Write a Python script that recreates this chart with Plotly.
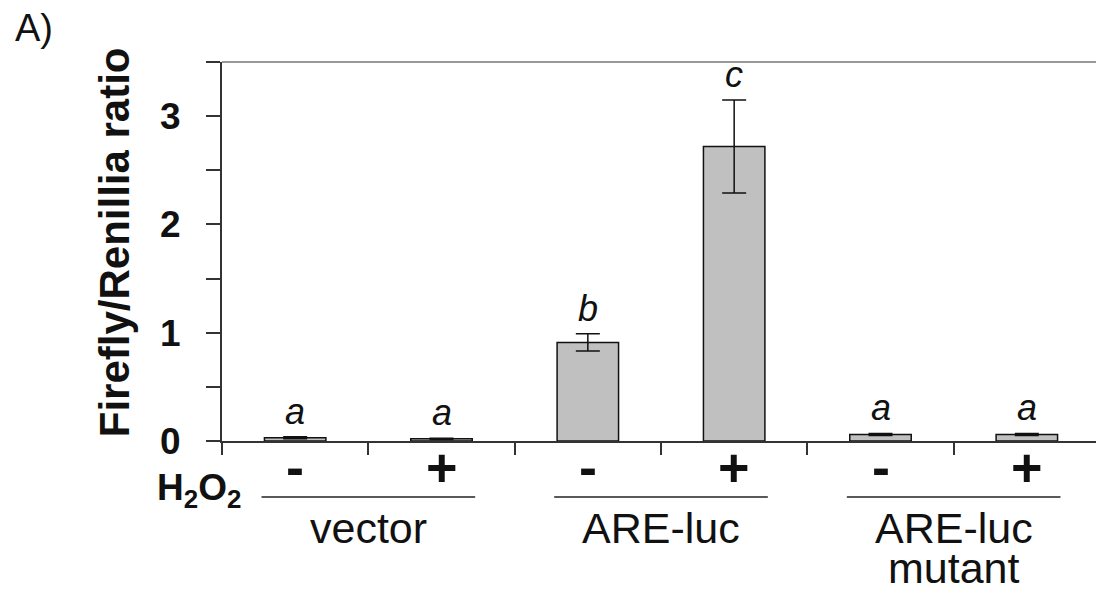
import plotly.graph_objects as go

# ---- data ----
groups = ["vector", "ARE-luc", "ARE-luc\nmutant"]
h2o2 = ["-", "+", "-", "+", "-", "+"]
values = [0.03, 0.02, 0.91, 2.72, 0.06, 0.06]
errors = [0.01, 0.005, 0.08, 0.43, 0.01, 0.01]
letters = ["a", "a", "b", "c", "a", "a"]
y_tick_vals = [0, 0.5, 1, 1.5, 2, 2.5, 3, 3.5]
y_tick_text = ["0", " ", "1", " ", "2", " ", "3", " "]
y_title = "Firefly/Renillia ratio"

FONT = "Liberation Sans, Arial, sans-serif"
OFF = 8  # page body margin
W, H = 1104 - OFF, 594 - OFF
# reference pixel geometry
REF_L, REF_R, REF_T, REF_B = 222, 1102, 62, 441
L = REF_L - OFF
T = REF_T - OFF
R = W - (REF_R - OFF)
B = H - (REF_B - OFF)
plot_w = W - L - R
plot_h = H - T - B


def py2paper(py):
    return (REF_B - py) / plot_h


def px2paper(px):
    return (px - REF_L) / plot_w


xs = [i + 0.5 for i in range(len(values))]

fig = go.Figure()
fig.add_trace(go.Bar(
    x=xs, y=values, width=0.42,
    marker=dict(color="#c0c0c0", line=dict(color="#111111", width=1.5)),
    error_y=dict(type="data", array=errors, visible=True, color="#111111",
                 thickness=1.5, width=12),
    showlegend=False,
))

ann = []
# significance letters
for x, v, e, t in zip(xs, values, errors, letters):
    ann.append(dict(x=x, y=v + e, xref="x", yref="y", text=f"<i>{t}</i>",
                    showarrow=False, yanchor="bottom", yshift=3,
                    font=dict(family=FONT, size=36, color="#111111")))
# H2O2 signs
for x, s in zip(xs, h2o2):
    ann.append(dict(x=x, y=py2paper(467), xref="x", yref="paper",
                    text=s, showarrow=False, yanchor="middle",
                    font=dict(family=FONT, size=54, color="#111111", weight="bold")))
# H2O2 label
ann.append(dict(x=px2paper(243), y=py2paper(490), xref="paper", yref="paper",
                text="H<sub>2</sub>O<sub>2</sub>", showarrow=False,
                xanchor="right", yanchor="middle",
                font=dict(family=FONT, size=37, color="#111111", weight="bold")))

shapes = []
for gi, g in enumerate(groups):
    cx = 2 * gi + 1.0
    shapes.append(dict(type="line", xref="x", yref="paper",
                       x0=cx - 0.73, x1=cx + 0.73,
                       y0=py2paper(497), y1=py2paper(497),
                       line=dict(color="#222222", width=1.5)))
    for li, line in enumerate(g.split("\n")):
        ann.append(dict(x=cx, y=py2paper(528 + 40 * li), xref="x", yref="paper",
                        text=line, showarrow=False, yanchor="middle",
                        font=dict(family=FONT, size=43, color="#111111")))

# frame top/right (gray)
shapes.append(dict(type="line", xref="paper", yref="paper", x0=0, x1=1, y0=1, y1=1,
                   line=dict(color="#999999", width=2)))
shapes.append(dict(type="line", xref="paper", yref="paper", x0=1, x1=1, y0=0, y1=1,
                   line=dict(color="#999999", width=2)))

# panel label
ann.append(dict(x=px2paper(13), y=py2paper(28), xref="paper", yref="paper", text="A)",
                showarrow=False, xanchor="left", yanchor="middle",
                font=dict(family=FONT, size=38, color="#111111")))

# y title
ann.append(dict(x=px2paper(114), y=py2paper(242), xref="paper", yref="paper",
                text=y_title, showarrow=False, textangle=-90,
                xanchor="center", yanchor="middle",
                font=dict(family=FONT, size=42, color="#111111", weight="bold")))

fig.update_layout(
    width=W, height=H,
    margin=dict(l=L, r=R, t=T, b=B, pad=0),
    plot_bgcolor="white", paper_bgcolor="white",
    annotations=ann, shapes=shapes,
    xaxis=dict(range=[0, 6], tickvals=list(range(7)), ticktext=[" "] * 7,
               ticks="outside", ticklen=12, tickwidth=1.5, tickcolor="#333333",
               showline=True, linecolor="#333333", linewidth=2,
               showgrid=False, zeroline=False, fixedrange=True),
    yaxis=dict(range=[0, 3.5], tickvals=y_tick_vals, ticktext=y_tick_text,
               ticks="outside", ticklen=14, tickwidth=1.5, tickcolor="#333333",
               showline=True, linecolor="#333333", linewidth=2,
               showgrid=False, zeroline=False,
               tickfont=dict(family=FONT, size=37, color="#111111", weight="bold"),
               ticklabelstandoff=18),
    font=dict(family=FONT),
)

fig.write_html("out.html")
